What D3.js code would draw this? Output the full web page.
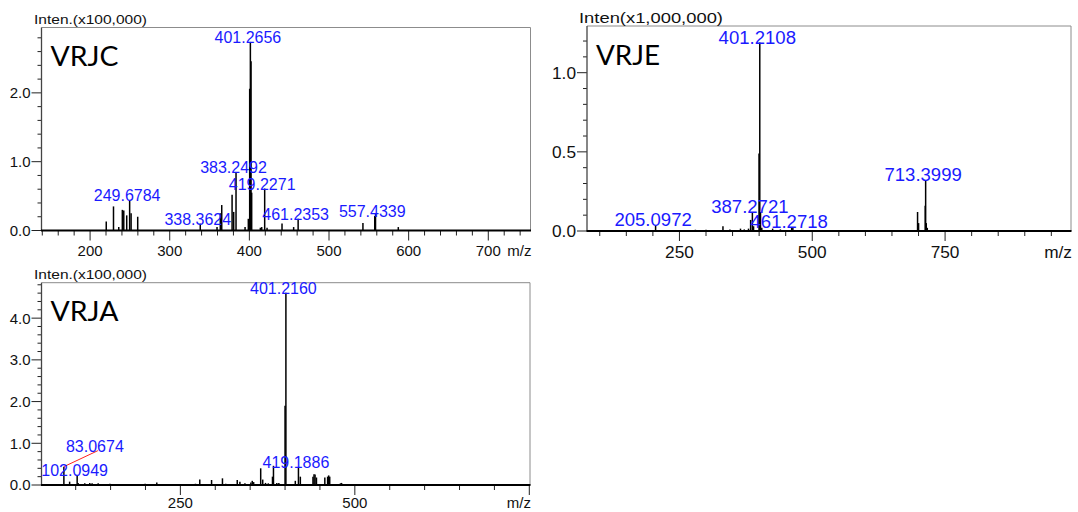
<!DOCTYPE html>
<html>
<head>
<meta charset="utf-8">
<script src="https://cdn.jsdelivr.net/npm/d3@7"></script>
<style>
  body { margin: 0; background: #fff; }
  svg { display: block; font-family: "Liberation Sans", Arial, sans-serif; }
</style>
</head>
<body>
<svg id="chart" width="1078" height="512"></svg>
<script>
// ---- VRJC spectrum (intensity in units of 100,000) ----
const vrjcMz  = [220.3, 229.4, 236.0, 240.5, 242.3, 246.0, 249.6784, 251.5, 259.8,
                 338.3624, 359.4, 363.5, 365.3, 378.3, 380.3, 383.2492, 394.6, 398.7,
                 400.4, 401.2656, 402.1, 402.9, 413.8, 415.5, 419.2271, 422.2, 441.0,
                 455.6, 461.2353, 542.6, 557.4339, 558.4, 587.0];
const vrjcInt = [0.13, 0.35, 0.05, 0.30, 0.29, 0.22, 0.44, 0.25, 0.20,
                 0.10, 0.05, 0.25, 0.37, 0.52, 0.27, 0.85, 0.05, 0.17,
                 2.06, 2.74, 2.46, 0.55, 0.04, 0.05, 0.61, 0.04, 0.10,
                 0.05, 0.17, 0.11, 0.21, 0.25, 0.05];
const vrjcLabels = [249.6784, 338.3624, 383.2492, 401.2656, 419.2271, 461.2353, 557.4339];
const vrjcXTicks = [200, 300, 400, 500, 600, 700];
const vrjcYTicks = [0, 1, 2];

// ---- VRJE spectrum (intensity in units of 1,000,000) ----
const vrjeMz  = [140, 205.0972, 280, 300, 331.9, 345, 364.9, 372, 380, 384.0, 387.2721,
                 389.5, 399.8, 401.2108, 402.6, 405, 425.4, 440, 461.2718, 463.5, 480,
                 698.2, 700.1, 712.6, 713.3999, 714.6, 716.5];
const vrjeInt = [0.006, 0.038, 0.008, 0.008, 0.03, 0.01, 0.015, 0.01, 0.015, 0.07, 0.12,
                 0.03, 0.49, 1.19, 0.12, 0.02, 0.015, 0.01, 0.023, 0.02, 0.006,
                 0.12, 0.05, 0.16, 0.32, 0.05, 0.02];
const vrjeLabels = [205.0972, 387.2721, 401.2108, 461.2718, 713.3999];
const vrjeXTicks = [250, 500, 750];
const vrjeYTicks = [0, 0.5, 1.0];

// ---- VRJA spectrum (intensity in units of 100,000) ----
const vrjaMz  = [83.0674, 91.3, 102.0949, 103.5, 113, 120.2, 123.5, 132.2, 149, 199.5,
                 216.2, 271.6, 277.8, 294.7, 310.3, 315, 331.5, 335.3, 342.5, 351, 353,
                 355, 365.1, 368, 372, 376, 382, 383.4, 388.2, 391.1, 400.0, 401.2160,
                 414.7, 419.1886, 421.9, 440, 441.5, 443, 445, 457, 461, 462.5, 464,
                 479.4, 481];
const vrjaInt = [0.44, 0.08, 0.24, 0.05, 0.04, 0.05, 0.04, 0.04, 0.03, 0.03,
                 0.06, 0.03, 0.13, 0.12, 0.16, 0.03, 0.12, 0.08, 0.04, 0.06, 0.10,
                 0.07, 0.40, 0.13, 0.05, 0.04, 0.20, 0.46, 0.05, 0.05, 1.90, 4.61,
                 0.10, 0.42, 0.20, 0.20, 0.26, 0.25, 0.18, 0.18, 0.20, 0.23, 0.20,
                 0.04, 0.05];
const vrjaLabels = [83.0674, 102.0949, 401.2160, 419.1886];
const vrjaLeader = [83.0674];   // label moved aside and tied back with a line
const vrjaXTicks = [250, 500];
const vrjaYTicks = [0, 1, 2, 3, 4];

const panels = [
  { name: "VRJC", mz: vrjcMz, inten: vrjcInt, labels: vrjcLabels, leader: [],
    yTitle: "Inten.(x100,000)", titleW: 113,
    box: { l: 41.5, t: 27.5, r: 530.5, b: 230.5 },
    xDomain: [139, 753], yDomain: [0, 2.95],
    xTicks: vrjcXTicks, xMinor: 20, xMajor: 100, xMinorRange: [140, 740],
    yTicks: vrjcYTicks, yMinor: 0.2, yMax: 2.8, k: 1, lk: 1, nameW: 68, xLabelDy: 25.5 },
  { name: "VRJE", mz: vrjeMz, inten: vrjeInt, labels: vrjeLabels, leader: [],
    yTitle: "Inten(x1,000,000)", titleW: 144,
    box: { l: 587, t: 26, r: 1071, b: 231 },
    xDomain: [76, 987], yDomain: [0, 1.295],
    xTicks: vrjeXTicks, xMinor: 50, xMajor: 250, xMinorRange: [100, 950],
    yTicks: vrjeYTicks, yMinor: 0.1, yMax: 1.2, k: 1.15, lk: 1.16, nameW: 64, xLabelDy: 27 },
  { name: "VRJA", mz: vrjaMz, inten: vrjaInt, labels: vrjaLabels, leader: vrjaLeader,
    yTitle: "Inten.(x100,000)", titleW: 113,
    box: { l: 41.5, t: 282.7, r: 530, b: 485 },
    xDomain: [51, 751], yDomain: [0, 4.85],
    xTicks: vrjaXTicks, xMinor: 50, xMajor: 250, xMinorRange: [100, 750],
    yTicks: vrjaYTicks, yMinor: 0.2, yMax: 4.8, k: 1, lk: 1, nameW: 68, xLabelDy: 23 }
];

const svg = d3.select("#chart");
const fmt4 = d3.format(".4f");
const fmt1 = d3.format(".1f");
const labelBlue = "#1a1aff";

panels.forEach(p => {
  const { l, t, r, b } = p.box;
  const x = d3.scaleLinear().domain(p.xDomain).range([l, r]);
  const y = d3.scaleLinear().domain(p.yDomain).range([b, t]);
  const g = svg.append("g");
  const k = p.k;

  // frame: light top/right edges, dark axes
  g.append("path")
    .attr("d", `M${l},${t}H${r}V${b}`)
    .attr("fill", "none").attr("stroke", "#8c8c8c").attr("stroke-width", 1);

  // x ticks
  const xt = d3.range(p.xMinorRange[0], p.xMinorRange[1] + 0.001, p.xMinor);
  g.selectAll(".xt").data(xt).join("line")
    .attr("x1", d => x(d)).attr("x2", d => x(d))
    .attr("y1", b).attr("y2", d => b + (Math.abs(d % p.xMajor) < 1e-6 ? 10 : 5))
    .attr("stroke", "#222").attr("stroke-width", 1);

  // y ticks
  const yt = d3.range(0, p.yMax + 1e-6, p.yMinor);
  g.selectAll(".yt").data(yt).join("line")
    .attr("x1", l).attr("x2", d => l - (p.yTicks.some(v => Math.abs(v - d) < 1e-6) ? 10 : 4))
    .attr("y1", d => y(d)).attr("y2", d => y(d))
    .attr("stroke", "#222").attr("stroke-width", 1);

  // peaks
  g.selectAll(".pk").data(p.mz.map((m, i) => [m, p.inten[i]])).join("line")
    .attr("x1", d => x(d[0])).attr("x2", d => x(d[0]))
    .attr("y1", y(0)).attr("y2", d => y(d[1]))
    .attr("stroke", "#000").attr("stroke-width", 1.5);

  // axes lines
  g.append("line").attr("x1", l).attr("x2", l).attr("y1", t).attr("y2", b)
    .attr("stroke", "#444").attr("stroke-width", 1.3);
  g.append("line").attr("x1", l - 0.5).attr("x2", r + 0.5).attr("y1", b).attr("y2", b)
    .attr("stroke", "#000").attr("stroke-width", 2);

  // tick labels
  g.selectAll(".xl").data(p.xTicks).join("text")
    .attr("x", d => x(d)).attr("y", b + p.xLabelDy)
    .attr("text-anchor", "middle").attr("font-size", 15 * k).attr("fill", "#111")
    .text(d => d);
  g.append("text")
    .attr("x", r + 1).attr("y", b + p.xLabelDy)
    .attr("text-anchor", "end").attr("font-size", 15 * k).attr("fill", "#111")
    .text("m/z");
  g.selectAll(".yl").data(p.yTicks).join("text")
    .attr("x", l - 11).attr("y", d => y(d)).attr("dy", "0.36em")
    .attr("text-anchor", "end").attr("font-size", 15 * k).attr("fill", "#111")
    .text(d => fmt1(d));

  // intensity title
  g.append("text")
    .attr("x", p.name === "VRJE" ? l - 8 : l - 7.5).attr("y", t - 3.5)
    .attr("font-size", 13.5 * k).attr("fill", "#111")
    .attr("textLength", p.titleW).attr("lengthAdjust", "spacingAndGlyphs")
    .text(p.yTitle);

  // sample name
  g.append("text")
    .attr("x", l + 9).attr("y", t + 38.5)
    .attr("font-family", "Lato, 'Open Sans', sans-serif")
    .attr("font-size", 27 * (k > 1 ? 1.03 : 1)).attr("fill", "#000")
    .attr("textLength", p.nameW).attr("lengthAdjust", "spacingAndGlyphs")
    .text(p.name);

  // peak labels
  const fs = 16 * p.lk;
  p.labels.forEach(m => {
    const i = p.mz.indexOf(m);
    const px = x(m), py = y(p.inten[i]);
    if (p.leader.includes(m)) {
      const lx = px + 31, ly = py - 16;
      g.append("line").attr("x1", px).attr("y1", py).attr("x2", lx + 3).attr("y2", ly)
        .attr("stroke", "#ff2020").attr("stroke-width", 1);
      g.append("text").attr("x", lx).attr("y", ly + 1)
        .attr("text-anchor", "middle").attr("font-size", fs).attr("fill", labelBlue)
        .text(fmt4(m));
    } else {
      g.append("text").attr("x", px - 2.5).attr("y", py + 1)
        .attr("text-anchor", "middle").attr("font-size", fs).attr("fill", labelBlue)
        .text(fmt4(m));
    }
  });
});
</script>
</body>
</html>
